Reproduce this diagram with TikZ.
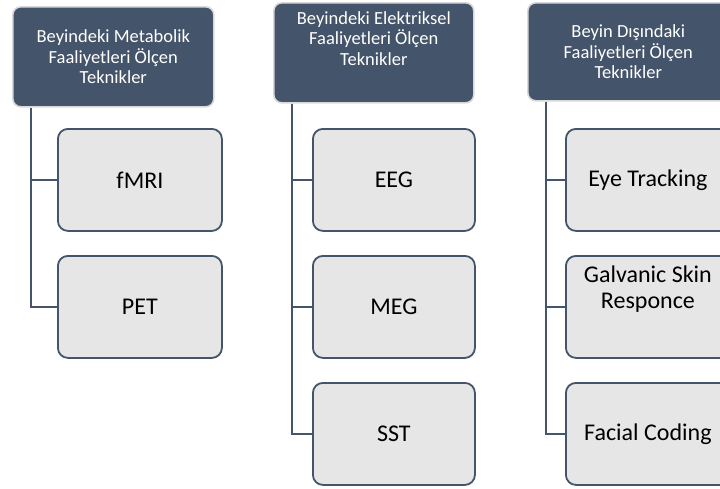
\documentclass[tikz,border=0pt]{standalone}
\usepackage{fontspec}
\setmainfont{Carlito}
\definecolor{slate}{HTML}{44546A}
\definecolor{boxfill}{HTML}{E7E6E6}
\definecolor{hdrline}{HTML}{D9D9D9}
\begin{document}
\begin{tikzpicture}[x=1pt,y=-1pt,
  header/.style={draw=hdrline, line width=1.6pt, fill=slate, rounded corners=8pt,
    anchor=north west, minimum width=201pt, minimum height=100pt, align=center,
    text=white, font=\fontsize{18.5}{20.8}\selectfont, inner sep=0pt},
  item/.style={draw=slate, line width=1.8pt, fill=boxfill, rounded corners=10pt,
    anchor=north west, minimum width=164pt, minimum height=102pt, align=center,
    text=black, font=\fontsize{24}{26}\selectfont, inner sep=0pt},
  conn/.style={draw=slate, line width=2pt}]
\useasboundingbox (0,0) rectangle (720,488);
\clip (0,0) rectangle (720,488);
\fill[white] (0,0) rectangle (720,488);

% headers
\node[header] (h1) at (12,6) {Beyindeki Metabolik\\Faaliyetleri Ölçen\\Teknikler};
\node[header, minimum width=200pt] (h2) at (273,2) {Beyindeki Elektriksel\\Faaliyetleri Ölçen\\Teknikler\\[8pt]};
\node[header, minimum height=98pt] (h3) at (527,2) {Beyin Dışındaki\\Faaliyetleri Ölçen\\Teknikler};

% items
\node[item] (fmri) at (57,128) {fMRI};
\node[item] (pet) at (57,255) {PET};
\node[item, minimum width=162pt] (eeg) at (312,128) {EEG};
\node[item, minimum width=162pt] (meg) at (312,255) {MEG};
\node[item, minimum width=162pt] (sst) at (312,382) {SST};
\node[item] (eye) at (565,128) {Eye Tracking};
\node[item] (gsr) at (565,255) {Galvanic Skin\\Responce\\[14pt]};
\node[item] (fac) at (565,382) {Facial Coding};

% connector origins
\coordinate (c1) at ([xshift=19pt]h1.south west);
\coordinate (c2) at ([xshift=19pt]h2.south west);
\coordinate (c3) at ([xshift=19pt]h3.south west);

\draw[conn] (c1) |- (fmri.west);
\draw[conn] (c1) |- (pet.west);
\draw[conn] (c2) |- (eeg.west);
\draw[conn] (c2) |- (meg.west);
\draw[conn] (c2) |- (sst.west);
\draw[conn] (c3) |- (eye.west);
\draw[conn] (c3) |- (gsr.west);
\draw[conn] (c3) |- (fac.west);
\end{tikzpicture}
\end{document}
